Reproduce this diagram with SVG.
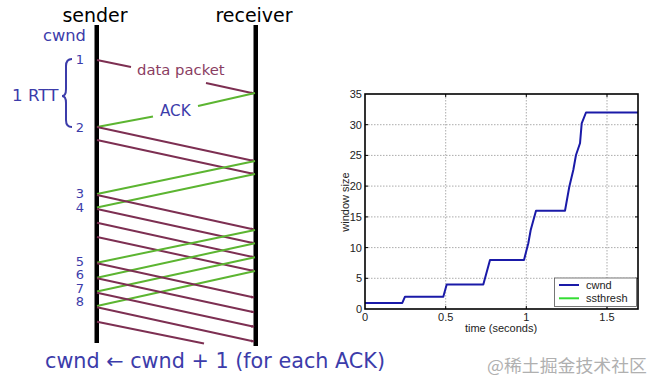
<svg xmlns="http://www.w3.org/2000/svg" width="662" height="388" viewBox="0 0 662 388">
<style>
.bl{font-family:"DejaVu Sans",Verdana,sans-serif;fill:#3c3caa}
.hd{font-family:"DejaVu Sans",Verdana,sans-serif;font-size:19px;fill:#000}
.num{font-family:"DejaVu Sans",Verdana,sans-serif;font-size:13px;fill:#3c3caa;text-anchor:end}
.d{stroke:#7d2f52;stroke-width:2;fill:none}
.a{stroke:#5cb531;stroke-width:2;fill:none}
.ax{font-family:"Liberation Sans",Arial,sans-serif;font-size:11px;fill:#222}
.grid{stroke:#888;stroke-width:0.7;stroke-dasharray:1.5 1.5}
</style>
<defs>
<marker id="md" viewBox="0 0 6 6" refX="5" refY="3" markerWidth="1.8" markerHeight="1.6" orient="auto"><path d="M0,0 L6,3 L0,6 z" fill="#7d2f52"/></marker>
</defs>
<rect width="662" height="388" fill="#fff"/>

<g id="sender">
<rect x="94.5" y="25" width="4.5" height="318" fill="#000"/>
<text class="hd" x="95" y="22" text-anchor="middle">sender</text>
</g>
<g id="receiver">
<rect x="253.5" y="25" width="4.5" height="321" fill="#000"/>
<text class="hd" x="254" y="22" text-anchor="middle">receiver</text>
</g>

<g id="labels">
<text class="bl" x="43" y="41" font-size="16.3">cwnd</text>
<text class="num" x="84" y="64">1</text>
<text class="num" x="84" y="132">2</text>
<text class="num" x="84" y="198">3</text>
<text class="num" x="84" y="212">4</text>
<text class="num" x="84" y="265.5">5</text>
<text class="num" x="84" y="279">6</text>
<text class="num" x="84" y="292.5">7</text>
<text class="num" x="84" y="306">8</text>
<path d="M72,59 Q66,59 66,66 L66,89 Q66,96 62,96 Q66,96 66,103 L66,120 Q66,127 72,127" fill="none" stroke="#3c3caa" stroke-width="2"/>
<text class="bl" x="12" y="101" font-size="16.7">1 RTT</text>
<text x="137" y="75" font-family="DejaVu Sans,Verdana,sans-serif" font-size="14.8" fill="#8a3d62">data packet</text>
<text class="bl" x="160" y="116" font-size="15.2">ACK</text>
<text class="bl" x="45" y="368" font-size="20.7" textLength="340" lengthAdjust="spacingAndGlyphs">cwnd ← cwnd + 1 (for each ACK)</text>
</g>

<g id="connectors">
<path class="d" d="M97,60 L131,67"/>
<path class="d" d="M206,83 L254,93.5" marker-end="url(#md)"/>
<path class="a" d="M255,93 L198,106"/>
<path class="a" d="M153,116.5 L97,127"/>
<path class="d" d="M97,127 L254,161" marker-end="url(#md)"/>
<path class="d" d="M97,140 L254,174" marker-end="url(#md)"/>
<path class="a" d="M255,161 L97,194"/>
<path class="a" d="M255,174 L97,207.5"/>
<path class="d" d="M97,195 L254,229.5" marker-end="url(#md)"/>
<path class="d" d="M97,209 L254,243.3" marker-end="url(#md)"/>
<path class="d" d="M97,222.7 L254,257.3" marker-end="url(#md)"/>
<path class="d" d="M97,237 L254,271" marker-end="url(#md)"/>
<path class="a" d="M255,230 L97,262.7"/>
<path class="a" d="M255,243.3 L97,277.7"/>
<path class="a" d="M255,257.3 L97,291.5"/>
<path class="a" d="M255,271 L97,306"/>
<path class="d" d="M97,263.3 L254,297.5" marker-end="url(#md)"/>
<path class="d" d="M97,278.3 L254,312.3" marker-end="url(#md)"/>
<path class="d" d="M97,292.7 L254,326.7" marker-end="url(#md)"/>
<path class="d" d="M97,307.3 L254,341.5" marker-end="url(#md)"/>
<path class="d" d="M97,321.7 L204,343.5"/>
</g>

<g id="chart">
<g class="grid">
<line x1="365" y1="278.3" x2="638" y2="278.3"/>
<line x1="365" y1="247.6" x2="638" y2="247.6"/>
<line x1="365" y1="216.9" x2="638" y2="216.9"/>
<line x1="365" y1="186.1" x2="638" y2="186.1"/>
<line x1="365" y1="155.4" x2="638" y2="155.4"/>
<line x1="365" y1="124.7" x2="638" y2="124.7"/>
<line x1="445.7" y1="94" x2="445.7" y2="309"/>
<line x1="526.3" y1="94" x2="526.3" y2="309"/>
<line x1="607" y1="94" x2="607" y2="309"/>
</g>
<g stroke="#000" stroke-width="1">
<path d="M365,278.3h3M365,247.6h3M365,216.9h3M365,186.1h3M365,155.4h3M365,124.7h3M638,278.3h-3M638,247.6h-3M638,216.9h-3M638,186.1h-3M638,155.4h-3M638,124.7h-3"/>
<path d="M445.7,309v-3M526.3,309v-3M607,309v-3M445.7,94v3M526.3,94v3M607,94v3"/>
</g>
<polyline fill="none" stroke="#1a1aa8" stroke-width="2" stroke-linejoin="round" points="365,302.9 402.3,302.9 405,296.7 443.3,296.7 446.7,284.4 483.3,284.4 490,259.9 524,259.9 528.3,243.3 530.7,230 536,210.7 565,210.7 569.3,186.7 573.3,170 576,155 580,143.3 581.7,123.3 586,112.5 638,112.5"/>
<rect x="365" y="94" width="273" height="215" fill="none" stroke="#000" stroke-width="1.6"/>
<g class="ax" text-anchor="end">
<text x="362" y="313">0</text>
<text x="362" y="282.3">5</text>
<text x="362" y="251.6">10</text>
<text x="362" y="220.9">15</text>
<text x="362" y="190.1">20</text>
<text x="362" y="159.4">25</text>
<text x="362" y="128.7">30</text>
<text x="362" y="98">35</text>
</g>
<g class="ax" text-anchor="middle">
<text x="365" y="321">0</text>
<text x="445.7" y="321">0.5</text>
<text x="526.3" y="321">1</text>
<text x="607" y="321">1.5</text>
<text x="501" y="332">time (seconds)</text>
<text x="0" y="0" transform="translate(349,202) rotate(-90)">window size</text>
</g>
<g id="legend">
<rect x="554.5" y="278" width="82" height="28.5" fill="#fff" stroke="#555" stroke-width="0.8"/>
<line x1="559" y1="285" x2="579" y2="285" stroke="#1a1aa8" stroke-width="2"/>
<line x1="559" y1="298.3" x2="579" y2="298.3" stroke="#33dd33" stroke-width="2"/>
<text class="ax" x="586" y="289" font-size="10.5">cwnd</text>
<text class="ax" x="586" y="302" font-size="10.5">ssthresh</text>
</g>
</g>

<text x="487" y="372" font-family="Noto Sans CJK SC,sans-serif" font-size="17" fill="#b0b0b0" textLength="160" lengthAdjust="spacingAndGlyphs">@稀土掘金技术社区</text>
</svg>
